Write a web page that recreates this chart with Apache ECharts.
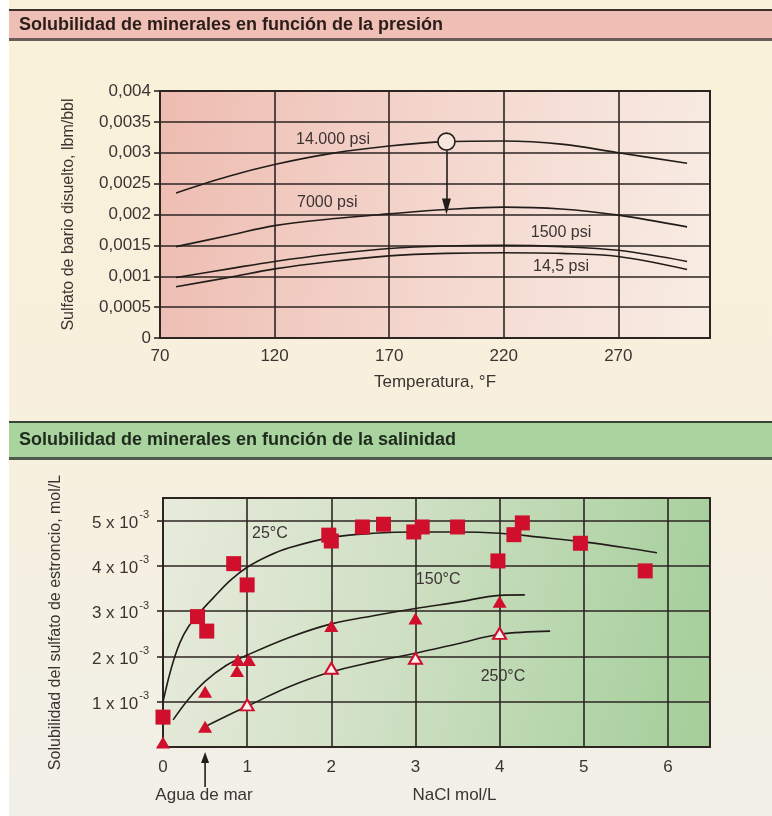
<!DOCTYPE html>
<html><head><meta charset="utf-8">
<script src="https://cdn.jsdelivr.net/npm/echarts@6/dist/echarts.min.js"></script>
<style>html,body{margin:0;padding:0;background:#fff}#c{width:772px;height:816px}</style>
</head><body><div id="c"></div>
<script>
// ---------- DATA: top chart (barium sulfate vs temperature) ----------
const titleTop = 'Solubilidad de minerales en función de la presión';
const titleBottom = 'Solubilidad de minerales en función de la salinidad';
const tempF = [77, 100, 120, 145, 170, 195, 220, 245, 270, 300];
const psi14000 = [0.00235, 0.00262, 0.00281, 0.00299, 0.00311, 0.00318, 0.00319, 0.00314, 0.00300, 0.00283];
const psi7000  = [0.00148, 0.00166, 0.00182, 0.00193, 0.00201, 0.00208, 0.00212, 0.00209, 0.00199, 0.00180];
const psi1500  = [0.00098, 0.00112, 0.00124, 0.00136, 0.00145, 0.00149, 0.00150, 0.00148, 0.00142, 0.00124];
const psi14_5  = [0.00083, 0.00098, 0.00112, 0.00124, 0.00133, 0.00137, 0.00138, 0.00137, 0.00132, 0.00111];
const circlePoint = [195, 0.00318];
const arrowTop = [[195, 0.00303], [195, 0.00213]];
const topLabels = [[145.5, 0.00321, '14.000 psi'], [143, 0.0022, '7000 psi'], [245, 0.0017, '1500 psi'], [245, 0.00115, '14,5 psi']];

// ---------- DATA: bottom chart (strontium sulfate vs NaCl) ----------
const sq25 = [[0,0.66],[0.41,2.88],[0.52,2.56],[0.84,4.05],[1.0,3.58],[1.97,4.68],[2.0,4.55],[2.37,4.86],[2.62,4.92],
  [2.98,4.75],[3.08,4.86],[3.5,4.86],[3.98,4.11],[4.17,4.69],[4.27,4.95],[4.96,4.50],[5.73,3.89]];
const tri150 = [[0,0.1],[0.5,1.22],[0.89,1.92],[0.88,1.68],[1.02,1.92],[2.0,2.67],[3.0,2.84],[4.0,3.21]];
const tri250Filled = [[0.5,0.45]];
const tri250Open = [[1.0,0.93],[2.0,1.74],[3.0,1.96],[4.0,2.51]];
const c25x = [0, 0.1, 0.2, 0.3, 0.45, 0.6, 0.8, 1.0, 1.25, 1.5, 2.0, 2.5, 3.0, 3.5, 4.0, 4.5, 5.0, 5.5, 5.87];
const c25y = [1.0, 1.75, 2.3, 2.65, 3.0, 3.3, 3.68, 3.97, 4.22, 4.4, 4.63, 4.72, 4.75, 4.75, 4.72, 4.63, 4.53, 4.4, 4.29];
const c150x = [0.12, 0.3, 0.5, 0.75, 1.0, 1.5, 2.0, 2.5, 3.0, 3.5, 4.0, 4.3];
const c150y = [0.6, 1.05, 1.45, 1.8, 2.03, 2.42, 2.72, 2.9, 3.06, 3.2, 3.35, 3.36];
const c250x = [0.5, 0.75, 1.0, 1.5, 2.0, 2.5, 3.0, 3.5, 4.0, 4.6];
const c250y = [0.45, 0.68, 0.9, 1.33, 1.66, 1.88, 2.07, 2.28, 2.49, 2.56];
const bottomLabels = [[1.27, 4.72, '25°C'], [3.27, 3.69, '150°C'], [4.04, 1.55, '250°C']];
const seaWaterX = 0.5;

// ---------- STYLE ----------
const FONT = "'Liberation Sans', Arial, sans-serif";
const TXT = '#3b3432';
const GRIDC = '#2c2522';
const RED = '#cf0f2b';
const zip = (a, b) => a.map((v, i) => [v, b[i]]);

const chart = echarts.init(document.getElementById('c'), null, {renderer: 'canvas'});

function curve(data, xi) {
  return {type: 'line', xAxisIndex: xi, yAxisIndex: xi, data, smooth: 0.35, symbol: 'none',
    lineStyle: {color: '#231d1a', width: 1.6}, z: 3, silent: true};
}

const option = {
  animation: false,
  backgroundColor: 'transparent',
  grid: [
    {left: 160, top: 91, width: 550, height: 247, show: true, borderColor: GRIDC, borderWidth: 2,
     backgroundColor: {type: 'linear', x: 0, y: 0, x2: 1, y2: 0.3,
       colorStops: [{offset: 0, color: '#eebcb1'}, {offset: 0.55, color: '#f4d8cf'}, {offset: 1, color: '#f8ebe2'}]}},
    {left: 163, top: 498, width: 547, height: 249, show: true, borderColor: GRIDC, borderWidth: 2,
     backgroundColor: {type: 'linear', x: 0, y: 0, x2: 1, y2: 0.4,
       colorStops: [{offset: 0, color: '#e8ebdc'}, {offset: 0.45, color: '#cfe0c4'}, {offset: 1, color: '#a6cf9c'}]}}
  ],
  xAxis: [
    {type: 'value', gridIndex: 0, min: 70, max: 310, interval: 50,
     axisLine: {show: true, lineStyle: {color: GRIDC, width: 2}}, axisTick: {show: false},
     splitLine: {show: true, lineStyle: {color: GRIDC, width: 1.6}},
     axisLabel: {color: TXT, fontFamily: FONT, fontSize: 17, margin: 10, showMaxLabel: false,
       formatter: v => (v > 280 ? '' : String(v))},
     name: 'Temperatura, °F', nameLocation: 'middle', nameGap: 36,
     nameTextStyle: {color: TXT, fontFamily: FONT, fontSize: 17}},
    {type: 'value', gridIndex: 1, min: 0, max: 6.5, interval: 1,
     axisLine: {show: true, lineStyle: {color: GRIDC, width: 2}}, axisTick: {show: false},
     splitLine: {show: true, lineStyle: {color: GRIDC, width: 1.6}},
     axisLabel: {color: TXT, fontFamily: FONT, fontSize: 17, margin: 12, showMaxLabel: false,
       formatter: v => (v > 6.2 ? '' : String(v))},
     name: 'NaCl mol/L', nameLocation: 'middle', nameGap: 40,
     nameTextStyle: {color: TXT, fontFamily: FONT, fontSize: 17, padding: [0, 0, 0, 36]}}
  ],
  yAxis: [
    {type: 'value', gridIndex: 0, min: 0, max: 0.004, interval: 0.0005,
     axisLine: {show: true, lineStyle: {color: GRIDC, width: 2}},
     axisTick: {show: true, length: 6, lineStyle: {color: GRIDC, width: 1.6}},
     splitLine: {show: true, lineStyle: {color: GRIDC, width: 1.6}},
     axisLabel: {color: TXT, fontFamily: FONT, fontSize: 17, margin: 9,
       formatter: v => (v === 0 ? '0' : String(+v.toFixed(4)).replace('.', ','))},
     name: 'Sulfato de bario disuelto, lbm/bbl', nameLocation: 'middle', nameGap: 83,
     nameTextStyle: {color: TXT, fontFamily: FONT, fontSize: 16}},
    {type: 'value', gridIndex: 1, min: 0, max: 5.5, interval: 1,
     axisLine: {show: true, lineStyle: {color: GRIDC, width: 2}},
     axisTick: {show: true, length: 6, lineStyle: {color: GRIDC, width: 1.6}},
     splitLine: {show: true, lineStyle: {color: GRIDC, width: 1.6}},
     axisLabel: {color: TXT, fontFamily: FONT, fontSize: 17, margin: 14, showMaxLabel: false,
       formatter: v => (v === 0 || v > 5.2 ? '' : '{a|' + v + ' x 10}{b|-3}'),
       rich: {a: {fontFamily: FONT, fontSize: 17, color: TXT, lineHeight: 22, verticalAlign: 'bottom'},
              b: {fontFamily: FONT, fontSize: 11, color: TXT, lineHeight: 22, verticalAlign: 'top', padding: [0, 0, 6, 1]}}},
     name: 'Solubilidad del sulfato de estroncio, mol/L', nameLocation: 'middle', nameGap: 99,
     nameTextStyle: {color: TXT, fontFamily: FONT, fontSize: 16}}
  ],
  series: [
    curve(zip(tempF, psi14000), 0),
    curve(zip(tempF, psi7000), 0),
    curve(zip(tempF, psi1500), 0),
    curve(zip(tempF, psi14_5), 0),
    {type: 'scatter', xAxisIndex: 0, yAxisIndex: 0, data: [circlePoint], symbol: 'circle', symbolSize: 17,
     itemStyle: {color: '#f6e6de', borderColor: '#231d1a', borderWidth: 1.6, opacity: 1}, z: 5, silent: true,
     markLine: {silent: true, symbol: ['none', 'triangle'], symbolSize: [9, 16], symbolRotate: 180,
       lineStyle: {color: '#231d1a', width: 1.6, type: 'solid'}, label: {show: false},
       data: [[{coord: arrowTop[0]}, {coord: arrowTop[1]}]]}},
    curve(zip(c25x, c25y), 1),
    curve(zip(c150x, c150y), 1),
    curve(zip(c250x, c250y), 1),
    {type: 'scatter', xAxisIndex: 1, yAxisIndex: 1, data: sq25, symbol: 'rect', symbolSize: 15,
     itemStyle: {color: RED, opacity: 1}, z: 6, silent: true},
    {type: 'scatter', xAxisIndex: 1, yAxisIndex: 1, data: tri150.concat(tri250Filled), symbol: 'triangle', symbolSize: [14, 12],
     itemStyle: {color: RED, opacity: 1}, z: 6, silent: true},
    {type: 'scatter', xAxisIndex: 1, yAxisIndex: 1, data: tri250Open, symbol: 'triangle', symbolSize: [13, 11],
     itemStyle: {color: '#fbeff0', borderColor: RED, borderWidth: 2, opacity: 1}, z: 6, silent: true}
  ]
};
chart.setOption(option);

// ---------- decorations (page background, header bands, curve labels, arrow) ----------
const g = [];
g.push({type: 'rect', shape: {x: 0, y: 0, width: 772, height: 816}, z: -20, silent: true,
  style: {fill: {type: 'linear', x: 0, y: 0, x2: 0, y2: 1,
    colorStops: [{offset: 0, color: '#f9f1d9'}, {offset: 0.45, color: '#f8f0dc'}, {offset: 1, color: '#f1f0e8'}]}}});
g.push({type: 'rect', shape: {x: 0, y: 0, width: 9, height: 816}, z: -19, silent: true, style: {fill: '#ffffff'}});
// pink header
g.push({type: 'rect', shape: {x: 9, y: 10, width: 763, height: 29}, z: -10, silent: true, style: {fill: '#efbfb5'}});
g.push({type: 'rect', shape: {x: 9, y: 9, width: 763, height: 2}, z: -9, silent: true, style: {fill: '#3d2f2a'}});
g.push({type: 'rect', shape: {x: 9, y: 38, width: 763, height: 3}, z: -9, silent: true, style: {fill: '#6a5c56'}});
g.push({type: 'text', x: 19, y: 25, z: 10, silent: true,
  style: {text: titleTop, fill: '#2a1d1a', font: 'bold 18px ' + FONT, textVerticalAlign: 'middle'}});
// green header
g.push({type: 'rect', shape: {x: 9, y: 422, width: 763, height: 36}, z: -10, silent: true, style: {fill: '#a9d49f'}});
g.push({type: 'rect', shape: {x: 9, y: 421, width: 763, height: 2}, z: -9, silent: true, style: {fill: '#3a4436'}});
g.push({type: 'rect', shape: {x: 9, y: 457, width: 763, height: 3}, z: -9, silent: true, style: {fill: '#4f5a4b'}});
g.push({type: 'text', x: 19, y: 440, z: 10, silent: true,
  style: {text: titleBottom, fill: '#1f2a1c', font: 'bold 18px ' + FONT, textVerticalAlign: 'middle'}});

topLabels.forEach(([x, y, t]) => {
  const p = chart.convertToPixel({xAxisIndex: 0, yAxisIndex: 0}, [x, y]);
  g.push({type: 'text', x: p[0], y: p[1], z: 10, silent: true,
    style: {text: t, fill: TXT, font: '16px ' + FONT, textAlign: 'center', textVerticalAlign: 'middle'}});
});
bottomLabels.forEach(([x, y, t]) => {
  const p = chart.convertToPixel({xAxisIndex: 1, yAxisIndex: 1}, [x, y]);
  g.push({type: 'text', x: p[0], y: p[1], z: 10, silent: true,
    style: {text: t, fill: TXT, font: '16px ' + FONT, textAlign: 'center', textVerticalAlign: 'middle'}});
});
// "Agua de mar" arrow under the axis
const ax = chart.convertToPixel({xAxisIndex: 1}, seaWaterX);
g.push({type: 'line', shape: {x1: ax, y1: 787, x2: ax, y2: 760}, z: 10, silent: true,
  style: {stroke: '#231d1a', lineWidth: 1.6}});
g.push({type: 'polygon', shape: {points: [[ax, 752], [ax - 4, 763], [ax + 4, 763]]}, z: 10, silent: true,
  style: {fill: '#231d1a'}});
g.push({type: 'text', x: 204, y: 795, z: 10, silent: true,
  style: {text: 'Agua de mar', fill: TXT, font: '17px ' + FONT, textAlign: 'center', textVerticalAlign: 'middle'}});

chart.setOption({graphic: g});
</script></body></html>
